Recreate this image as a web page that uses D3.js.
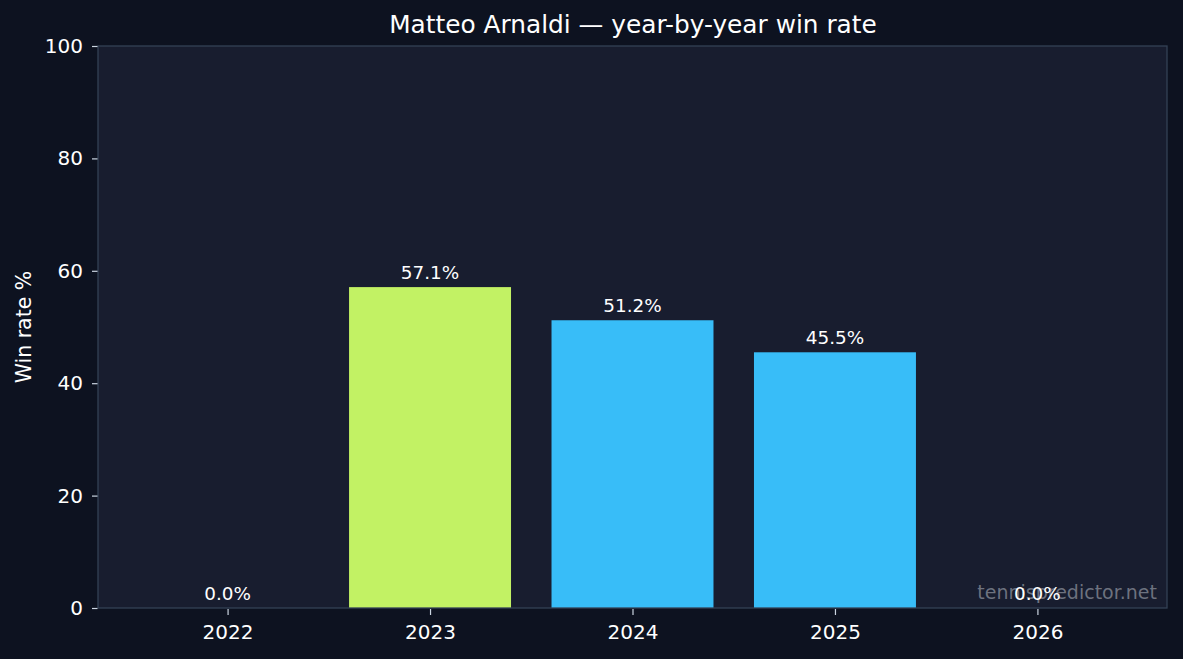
<!DOCTYPE html>
<html><head><meta charset="utf-8">
<script src="https://cdn.jsdelivr.net/npm/d3@7"></script>
<style>html,body{margin:0;padding:0;background:#0d1220;}svg{display:block;font-family:"DejaVu Sans",sans-serif;}</style>
</head><body>
<svg id="c" width="1183" height="659"></svg>
<script>
const years = ["2022","2023","2024","2025","2026"];
const winRates = [0.0, 57.1, 51.2, 45.5, 0.0];
const barColors = ["#38bdf8","#c2f264","#38bdf8","#38bdf8","#38bdf8"];
const yTicks = [0,20,40,60,80,100];
const titleText = "Matteo Arnaldi — year-by-year win rate";
const yLabelText = "Win rate %";
const watermark = "tennispredictor.net";

const svg = d3.select("#c");
const W = 1183, H = 659;
const m = {l:98, r:1167, t:46, b:608};
svg.append("rect").attr("width",W).attr("height",H).attr("fill","#0d1220");
svg.append("rect").attr("x",m.l).attr("y",m.t).attr("width",m.r-m.l).attr("height",m.b-m.t).attr("fill","#181d2f");

const x = d3.scaleLinear().domain([-0.64, years.length-1+0.64]).range([m.l, m.r]);
const y = d3.scaleLinear().domain([0,100]).range([m.b, m.t]);
const bw = x(0.8)-x(0);

svg.append("g").selectAll("rect").data(winRates).join("rect")
  .attr("x",(d,i)=>x(i)-bw/2).attr("width",bw)
  .attr("y",d=>y(d)).attr("height",d=>y(0)-y(d))
  .attr("fill",(d,i)=>barColors[i]);

// frame
svg.append("rect").attr("x",m.l).attr("y",m.t).attr("width",m.r-m.l).attr("height",m.b-m.t)
  .attr("fill","none").attr("stroke","#334155").attr("stroke-width",1.3);

const yAxis = svg.append("g").attr("transform",`translate(${m.l-0.5},0)`)
  .call(d3.axisLeft(y).tickValues(yTicks).tickSize(5.5).tickPadding(9));
const xAxis = svg.append("g").attr("transform",`translate(0,${m.b+1})`)
  .call(d3.axisBottom(x).tickValues(d3.range(years.length)).tickFormat(i=>years[i]).tickSize(6).tickPadding(10));
[yAxis,xAxis].forEach(a=>{
  a.select(".domain").remove();
  a.selectAll(".tick line").attr("stroke","#cbd5e1").attr("stroke-width",1.2);
  a.selectAll(".tick text").attr("fill","#ffffff").attr("font-size",20).attr("font-family","DejaVu Sans");
});

// watermark
svg.append("text").attr("x",1157).attr("y",599).attr("text-anchor","end")
  .attr("fill","#8a8f9a").attr("fill-opacity",0.75).attr("font-size",19).text(watermark);

// value labels
svg.append("g").selectAll("text").data(winRates).join("text")
  .attr("x",(d,i)=>x(i)).attr("y",d=>y(d)-8).attr("text-anchor","middle")
  .attr("fill","#ffffff").attr("font-size",18.4).text(d=>d.toFixed(1)+"%");

svg.append("text").attr("x",(m.l+m.r)/2+0.5).attr("y",33).attr("text-anchor","middle")
  .attr("fill","#ffffff").attr("font-size",24.8).text(titleText);

svg.append("text").attr("transform",`translate(31,${(m.t+m.b)/2}) rotate(-90)`).attr("text-anchor","middle")
  .attr("fill","#ffffff").attr("font-size",20.5).text(yLabelText);
</script>
</body></html>
